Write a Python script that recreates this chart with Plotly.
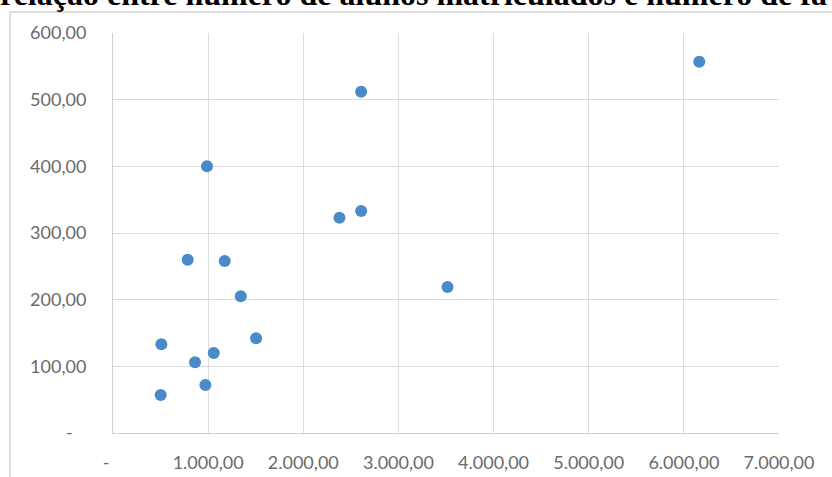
import plotly.graph_objects as go

# Data (x: alunos matriculados, y: faltas)
alunos = [6162, 2608, 988, 2380, 2608, 785, 1174, 1343, 3516, 508, 1504, 1059, 862, 971, 501]
faltas = [557, 512, 400, 323, 333, 260, 258, 205, 219, 133, 142, 120, 106, 72, 57]

x_tickvals = [0, 1000, 2000, 3000, 4000, 5000, 6000, 7000]
x_ticktext = ["-\u00a0\u00a0\u00a0", "1.000,00", "2.000,00", "3.000,00", "4.000,00",
              "5.000,00", "6.000,00", "7.000,00"]
y_tickvals = [0, 100, 200, 300, 400, 500, 600]
y_ticktext = ["-\u00a0\u00a0\u00a0", "100,00", "200,00", "300,00", "400,00", "500,00", "600,00"]

title_text = "relação entre número de alunos matriculados e número de fa"

W, H = 832, 477
L, R, T, B = 113, 53, 33, 44
pw, ph = W - L - R, H - T - B

def px_x(p):
    return (p - L) / pw

def px_y(p):
    return (H - B - p) / ph

fig = go.Figure()
fig.add_trace(go.Scatter(
    x=alunos, y=faltas, mode="markers",
    marker=dict(size=12, color="#4a8ac8", line=dict(width=0)),
    showlegend=False, cliponaxis=False,
))

tick_font = dict(family="Lato, 'Open Sans', sans-serif", size=18, color="#6a6a6a")

fig.update_layout(
    width=W, height=H,
    margin=dict(l=L, r=R, t=T, b=B, pad=0, autoexpand=False),
    paper_bgcolor="white", plot_bgcolor="white",
    xaxis=dict(
        range=[0, 7000], tickvals=x_tickvals, ticktext=x_ticktext,
        showgrid=True, gridcolor="#dcdcdc", gridwidth=1,
        zeroline=False, showline=True, linecolor="#cfcfcf", linewidth=1,
        mirror=False, ticks="", ticklabelstandoff=13, tickfont=tick_font,
        fixedrange=True, automargin=False,
    ),
    yaxis=dict(
        range=[0, 600], tickvals=y_tickvals, ticktext=y_ticktext,
        showgrid=True, gridcolor="#dcdcdc", gridwidth=1,
        zeroline=False, showline=True, linecolor="#cfcfcf", linewidth=1,
        ticks="", ticklabelstandoff=22, tickfont=tick_font,
        fixedrange=True, automargin=False,
    ),
    shapes=[
        dict(type="rect", xref="paper", yref="paper",
             x0=px_x(10), x1=px_x(900), y0=px_y(520), y1=px_y(12),
             line=dict(color="#d4d4d4", width=1.5), fillcolor="rgba(0,0,0,0)",
             layer="below"),
    ],
    annotations=[
        dict(text="<b>" + title_text + "</b>", xref="paper", yref="paper",
             x=px_x(-2), y=px_y(-6), xanchor="left", yanchor="middle",
             showarrow=False,
             font=dict(family="'Liberation Serif', 'Times New Roman', serif",
                       size=32, color="#000000")),
    ],
)

fig.write_html(
    "out.html",
    config={"displayModeBar": False, "staticPlot": True},
    post_script="document.body.style.margin='0';document.body.style.overflow='hidden';",
)
